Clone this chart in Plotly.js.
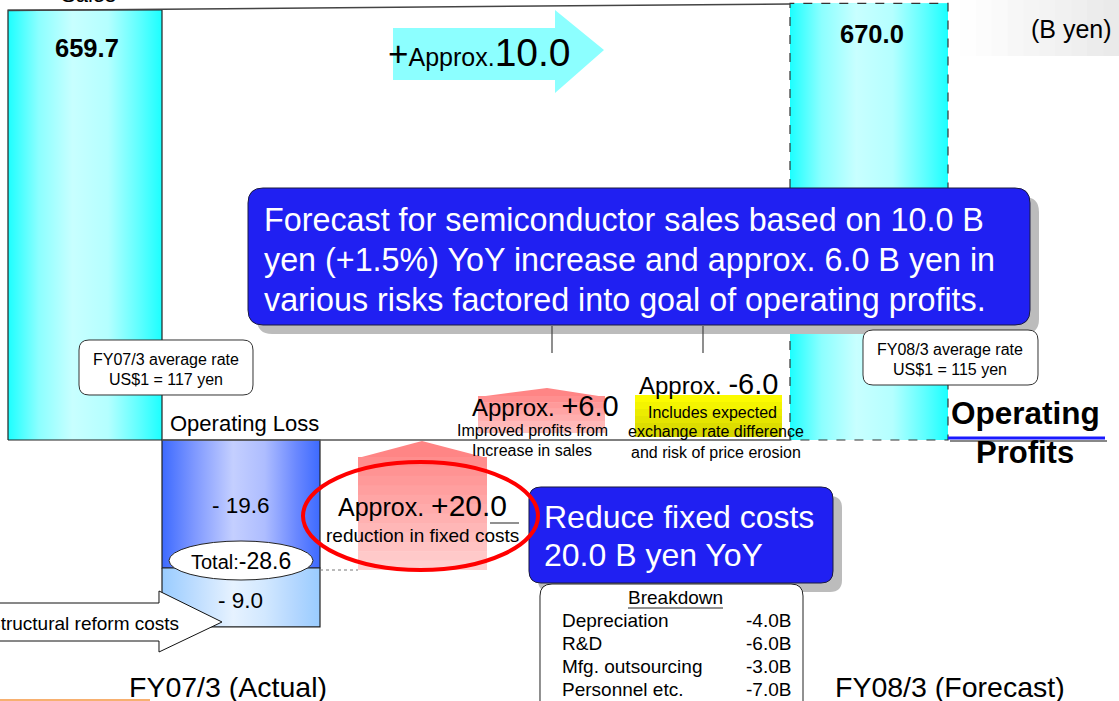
<!DOCTYPE html>
<html><head><meta charset="utf-8">
<script src="https://cdn.plot.ly/plotly-3.0.1.min.js"></script>
<style>html,body{margin:0;padding:0;background:#fff;overflow:hidden}#chart{width:1119px;height:701px}</style>
</head><body><div id="chart"></div>
<script>
// ---------------- data ----------------
const periods = ["FY07/3 (Actual)", "FY08/3 (Forecast)"];
const salesValues = [659.7, 670.0];
const salesIncrease = 10.0;
const lossParts = ["Operating loss", "Structural reform costs"];
const lossValues = [-19.6, -9.0];
const bridgeValues = [6.0, -6.0, 20.0];
const breakdownItems = ["Depreciation", "R&D", "Mfg. outsourcing", "Personnel etc."];
const breakdownValues = [-4.0, -6.0, -3.0, -7.0];
const rateLabels = ["FY07/3 average rate", "FY08/3 average rate"];
const rateYen = [117, 115];

// ---------------- geometry / style ----------------
const W = 1119, H = 701;
const FONT = '"Liberation Sans", Arial, sans-serif';
const ZERO_PX = 440, PX_PER_PROFIT = 6.531, PX_PER_SALES = 0.6518;
const yRange = [-(H - ZERO_PX) / PX_PER_PROFIT, ZERO_PX / PX_PER_PROFIT];
const y2Range = [-(H - ZERO_PX) / PX_PER_SALES, ZERO_PX / PX_PER_SALES];
const salesX = [85, 869], salesW = [154, 158];
const lossX = 241, lossW = 158;

const px = x => x / W;
const py = y => 1 - y / H;
const P = (x, y) => px(x).toFixed(5) + ',' + py(y).toFixed(5);

function hex2rgb(h){h=h.replace('#','');return [0,2,4].map(i=>parseInt(h.substr(i,2),16));}
function mix(c0,c1,t){const a=hex2rgb(c0),b=hex2rgb(c1);return 'rgb('+a.map((v,i)=>Math.round(v+(b[i]-v)*t)).join(',')+')';}

function poly(pts){return pts.map((p,i)=>(i?'L':'M')+P(p[0],p[1])).join(' ')+' Z';}
function rrect(x0,y0,x1,y1,r){
  return `M${P(x0+r,y0)} L${P(x1-r,y0)} Q${P(x1,y0)} ${P(x1,y0+r)} L${P(x1,y1-r)} Q${P(x1,y1)} ${P(x1-r,y1)} L${P(x0+r,y1)} Q${P(x0,y1)} ${P(x0,y1-r)} L${P(x0,y0+r)} Q${P(x0,y0)} ${P(x0+r,y0)} Z`;
}
function pathShape(path, fill, line, layer){return {type:'path',xref:'paper',yref:'paper',path,fillcolor:fill,line:line||{width:0},layer:layer||'above'};}
function lineShape(x0,y0,x1,y1,color,width,dash){return {type:'line',xref:'paper',yref:'paper',x0:px(x0),y0:py(y0),x1:px(x1),y1:py(y1),line:{color,width,dash:dash||'solid'},layer:'above'};}
function vbands(x0,x1,y0,y1,c0,c1,n){const out=[];for(let i=0;i<n;i++){const ya=y0+(y1-y0)*i/n, yb=Math.min(y1,y0+(y1-y0)*(i+1)/n+0.7);out.push({type:'rect',xref:'paper',yref:'paper',x0:px(x0),x1:px(x1),y0:py(ya),y1:py(yb),fillcolor:mix(c0,c1,(i+0.5)/n),line:{width:0},layer:'above'});}return out;}
function hbands(x0,x1,y0,y1,c0,c1,n){const out=[];for(let i=0;i<n;i++){const xa=x0+(x1-x0)*i/n, xb=Math.min(x1,x0+(x1-x0)*(i+1)/n+0.7);out.push({type:'rect',xref:'paper',yref:'paper',x0:px(xa),x1:px(xb),y0:py(y0),y1:py(y1),fillcolor:mix(c0,c1,(i+0.5)/n),line:{width:0},layer:'below'});}return out;}

function ann(text,x,y,size,o){
  o=o||{};
  return {text,x:px(x),y:py(y),xref:'paper',yref:'paper',showarrow:false,
    xanchor:o.xanchor||'center',yanchor:o.yanchor||'middle',align:o.align||'center',
    font:{family:FONT,size,color:o.color||'#000'}};
}
const fmt1 = v => v.toFixed(1);
const signed = v => (v >= 0 ? '+' : '-') + Math.abs(v).toFixed(1);

// ---------------- traces ----------------
const cyanScale=[[0,'#1cffff'],[0.2,'#8cffff'],[0.42,'#c8ffff'],[0.65,'#b4ffff'],[0.85,'#60ffff'],[1,'#1cffff']];
const blueScale=[[0,'#3d6aff'],[0.2,'#7d97ff'],[0.45,'#c4cfff'],[0.65,'#aebdff'],[0.85,'#6a88ff'],[1,'#3d6aff']];
const lightScale=[[0,'#99ccff'],[0.2,'#bcdcff'],[0.45,'#e6f2ff'],[0.65,'#d2e8ff'],[0.85,'#b2d6ff'],[1,'#99ccff']];

function gradBar(xc,w,base,v,yaxis,scale,line){
  const x0=xc-w/2,x1=xc+w/2;
  return {type:'scatter',mode:'lines',x:[x0,x0,x1,x1,x0],y:[base,base+v,base+v,base,base],
    fill:'toself',fillgradient:{type:'horizontal',colorscale:scale},line,yaxis,hoverinfo:'skip',showlegend:false};
}
const lossBase=[0, lossValues[0]];
const traces=[
  {type:'bar',name:'Sales',x:salesX,y:salesValues,width:salesW,yaxis:'y2',marker:{color:'#7ff'},hoverinfo:'y',showlegend:false},
  {type:'bar',name:'Operating loss',x:[lossX,lossX],base:lossBase,y:lossValues,width:[lossW,lossW],yaxis:'y',marker:{color:['#7d97ff','#bcdcff']},hoverinfo:'y',showlegend:false},
  gradBar(lossX,lossW,lossBase[0],lossValues[0],'y',blueScale,{color:'#222',width:1.2}),
  gradBar(lossX,lossW,lossBase[1],lossValues[1],'y',lightScale,{color:'#222',width:1.2}),
  gradBar(salesX[0],salesW[0],0,salesValues[0],'y2',cyanScale,{color:'#222',width:1.2}),
  gradBar(salesX[1],salesW[1],0,salesValues[1],'y2',cyanScale,{color:'#333',width:1.2,dash:'dash'})
];

// ---------------- decorations ----------------
let shapes=[];
shapes=shapes.concat(hbands(960,1119,0,56,'#ffffff','#e9e9e9',10));
shapes.push(lineShape(8,10.5,790,4,'#444',1.5));
shapes.push(lineShape(162,440,790,440,'#555',1.5));
shapes.push(lineShape(320,570,358,570,'#777',1,'dot'));
// cyan sales-increase arrow
shapes.push(pathShape(poly([[393,28],[555,28],[555,10],[604,50],[555,93],[555,80],[393,80]]),'#8cffff'));
// +20 pink arrow
shapes.push(pathShape(poly([[358,458],[422,441],[487,458]]),'#ff8585'));
shapes=shapes.concat(vbands(358,487,457,570,'#ff8a8a','#ffd2d2',12));
// +6 pink arrow
shapes.push(pathShape(poly([[478,397],[547,388],[605,397]]),'#ff8585'));
shapes=shapes.concat(vbands(478,605,396,433,'#ff8a8a','#ffc8c8',6));
// yellow highlight
shapes=shapes.concat(vbands(635,782,395,437,'#ffff00','#d2d200',6));
// structural reform arrow
shapes.push(pathShape(poly([[-5,603],[159,603],[159,591],[222,622],[159,652],[159,641],[-5,641]]),'#ffffff',{color:'#111',width:1}));
// total ellipse
shapes.push({type:'circle',xref:'paper',yref:'paper',x0:px(169),x1:px(313),y0:py(580),y1:py(541),fillcolor:'#fff',line:{color:'#222',width:1},layer:'above'});
// big blue box
shapes.push(pathShape(rrect(257,197,1039,334,15),'#bcbcbc'));
shapes.push(pathShape(rrect(248,188,1030,325,15),'#2020f2',{color:'#1a1a40',width:1}));
shapes.push(lineShape(552,326,552,353,'#444',1.2));
shapes.push(lineShape(703,326,703,353,'#444',1.2));
// rate boxes
shapes.push(pathShape(rrect(79,340,253,395,10),'#fff',{color:'#333',width:1}));
shapes.push(pathShape(rrect(863,330,1038,385,10),'#fff',{color:'#333',width:1}));
// reduce box
shapes.push(pathShape(rrect(538,496,842,592,12),'#bcbcbc'));
shapes.push(pathShape(rrect(529,487,833,583,12),'#2020f2',{color:'#1a1a40',width:1}));
// breakdown box
shapes.push(pathShape(rrect(540,584,803,716,12),'#fff',{color:'#222',width:1}));
shapes.push(lineShape(628,608,723,608,'#222',1));
// red ellipse
shapes.push({type:'circle',xref:'paper',yref:'paper',x0:px(303),x1:px(538),y0:py(570),y1:py(462),line:{color:'#ff0000',width:4},layer:'above'});
shapes.push(lineShape(490,523,519,523,'#555',1.3));
// operating profits underline
shapes.push(lineShape(950,441,1107,441,'#888',2));
shapes.push(lineShape(948,438,1105,438,'#1a1aff',3));
// orange accent bottom left
shapes.push(lineShape(0,700,150,700,'#f7b070',2));

// ---------------- texts ----------------
const A=[];
A.push(ann('Sales',88,-5,22));
A.push(ann('<b>'+fmt1(salesValues[0])+'</b>',87,48,25.5));
A.push(ann('<b>'+fmt1(salesValues[1])+'</b>',872,34,25.5));
A.push(ann('(B yen)',1114,29,25,{xanchor:'right'}));
A.push(ann('<span style="font-size:35px">+</span>Approx.<span style="font-size:39px">'+fmt1(salesIncrease)+'</span>',386,53,25,{xanchor:'left'}));
['Forecast for semiconductor sales based on 10.0 B','yen (+1.5%) YoY increase and approx. 6.0 B yen in','various risks factored into goal of operating profits.']
  .forEach((t,i)=>A.push(ann(t,262,220+i*40,32.3,{xanchor:'left',color:'#fff'})));
A.push(ann(rateLabels[0],166,359,16));
A.push(ann('US$1 = '+rateYen[0]+' yen',166,379,16));
A.push(ann(rateLabels[1],950,349,16));
A.push(ann('US$1 = '+rateYen[1]+' yen',950,369,16));
A.push(ann('Operating Loss',244,423,22));
A.push(ann('Approx. <span style="font-size:29px">'+signed(bridgeValues[0])+'</span>',545,406,24));
A.push(ann('Improved profits from',532,430,16));
A.push(ann('Increase in sales',532,450,16));
A.push(ann('Approx. <span style="font-size:29px">'+signed(bridgeValues[1])+'</span>',708,384,24));
A.push(ann('Includes expected',712,412,16));
A.push(ann('exchange rate difference',716,432,16));
A.push(ann('and risk of price erosion',716,452,16));
A.push(ann('<b>Operating</b>',1025,413,31.5));
A.push(ann('<b>Profits</b>',1025,452,31));
A.push(ann('- '+fmt1(Math.abs(lossValues[0])),241,505,22.5));
A.push(ann('- '+fmt1(Math.abs(lossValues[1])),241,600,22.5));
const total=lossValues.reduce((a,b)=>a+b,0);
A.push(ann('Total:<span style="font-size:23px">'+fmt1(total)+'</span>',241,561,20));
A.push(ann('Approx. <span style="font-size:30px">'+signed(bridgeValues[2])+'</span>',422,505,25));
A.push(ann('reduction in fixed costs',422,535,19));
A.push(ann('Reduce fixed costs',542,517,32,{xanchor:'left',color:'#fff'}));
A.push(ann('20.0 B yen YoY',542,555,32,{xanchor:'left',color:'#fff'}));
A.push(ann('Breakdown',675,597,19));
breakdownItems.forEach((t,i)=>{
  A.push(ann(t,560,620+i*23,19,{xanchor:'left'}));
  A.push(ann(breakdownValues[i].toFixed(1)+'B',793,620+i*23,19,{xanchor:'right'}));
});
A.push(ann('Structural reform costs',181,623,19,{xanchor:'right'}));
A.push(ann(periods[0],228,687,28.5));
A.push(ann(periods[1],950,687,28.5));

const layout={width:W,height:H,margin:{l:0,r:0,t:0,b:0,pad:0},paper_bgcolor:'#fff',plot_bgcolor:'rgba(0,0,0,0)',
  showlegend:false,barmode:'overlay',
  xaxis:{range:[0,W],visible:false,fixedrange:true},
  yaxis:{range:yRange,visible:false,fixedrange:true},
  yaxis2:{range:y2Range,overlaying:'y',visible:false,fixedrange:true},
  shapes,annotations:A};
Plotly.newPlot('chart',traces,layout,{displayModeBar:false,staticPlot:true});
</script></body></html>
